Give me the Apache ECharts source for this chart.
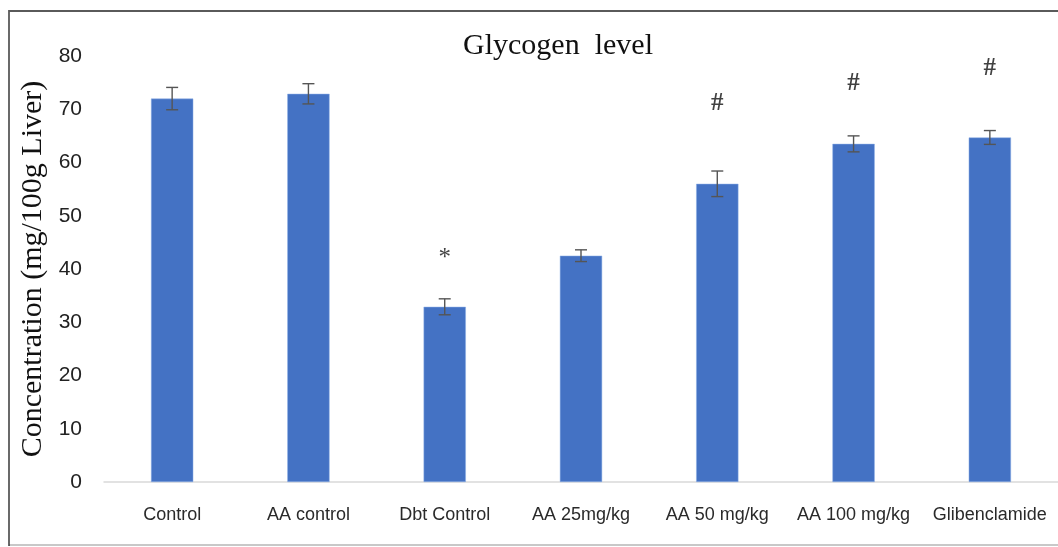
<!DOCTYPE html>
<html><head><meta charset="utf-8">
<script src="https://cdn.jsdelivr.net/npm/echarts@6/dist/echarts.min.js"></script>
<style>html,body{margin:0;padding:0;background:#fff}#c{width:1058px;height:547px}</style>
</head><body><div id="c"></div>
<script>
const categories = ['Control','AA control','Dbt Control','AA 25mg/kg','AA 50 mg/kg','AA 100 mg/kg','Glibenclamide'];
const values = [72.0, 72.9, 32.9, 42.5, 56.0, 63.5, 64.7];
const errors = [2.1, 1.9, 1.5, 1.1, 2.4, 1.5, 1.3];
const marks = ['', '', '*', '', '#', '#', '#'];
const markY = [null, null, 41.9, null, 71.1, 74.9, 77.7];
const yTicks = [0,10,20,30,40,50,60,70,80];

const chart = echarts.init(document.getElementById('c'));
chart.setOption({
  animation:false,
  backgroundColor:'#fff',
  title:{text:'Glycogen  level',left:553,top:26,textAlign:'center',
    textStyle:{fontFamily:'Liberation Serif',fontSize:30,fontWeight:'normal',color:'#111'}},
  graphic:[
    {type:'rect',shape:{x:9,y:11,width:1060,height:534},
      style:{fill:'none',stroke:'#5a5a5a',lineWidth:1.8},silent:true},
    {type:'line',shape:{x1:10,y1:545,x2:1058,y2:545},style:{stroke:'#c8c8c8',lineWidth:2},silent:true}
  ],
  grid:{left:104,right:-7,top:56,bottom:65},
  xAxis:{type:'category',data:categories,
    axisLine:{lineStyle:{color:'#d9d9d9',width:1.5}},axisTick:{show:false},
    axisLabel:{fontFamily:'Liberation Sans',fontSize:18,color:'#2a2a2a',margin:24,interval:0}},
  yAxis:{type:'value',min:yTicks[0],max:yTicks[yTicks.length-1],interval:10,
    name:'Concentration (mg/100g Liver)',nameLocation:'middle',nameGap:56,
    nameTextStyle:{fontFamily:'Liberation Serif',fontSize:30,color:'#111'},
    axisLine:{show:false},axisTick:{show:false},splitLine:{show:false},
    axisLabel:{fontFamily:'Liberation Sans',fontSize:21,color:'#222',margin:22}},
  series:[
    {type:'bar',data:values,barWidth:'31%',itemStyle:{color:'#4472c4',borderColor:'#8fb0e6',borderWidth:0.5}},
    {type:'custom',z:5,data:values.map((v,i)=>[i,v-errors[i],v+errors[i]]),
      renderItem:function(params,api){
        const lo=api.coord([api.value(0),api.value(1)]);
        const hi=api.coord([api.value(0),api.value(2)]);
        const x=lo[0], w=6;
        const st={stroke:'#555',lineWidth:1.4};
        return {type:'group',children:[
          {type:'line',shape:{x1:x,y1:lo[1],x2:x,y2:hi[1]},style:st},
          {type:'line',shape:{x1:x-w,y1:lo[1],x2:x+w,y2:lo[1]},style:st},
          {type:'line',shape:{x1:x-w,y1:hi[1],x2:x+w,y2:hi[1]},style:st}]};
      }},
    {type:'scatter',symbolSize:0,z:6,
      data:markY.map((y,i)=>y===null?null:{value:[i,y],label:{show:true,formatter:marks[i],fontWeight:marks[i]==='*'?'normal':'bold'}}).filter(d=>d),
      label:{show:true,position:'inside',fontFamily:'Liberation Serif',fontSize:25,fontWeight:'bold',color:'#111'}}
  ]
});
</script></body></html>
